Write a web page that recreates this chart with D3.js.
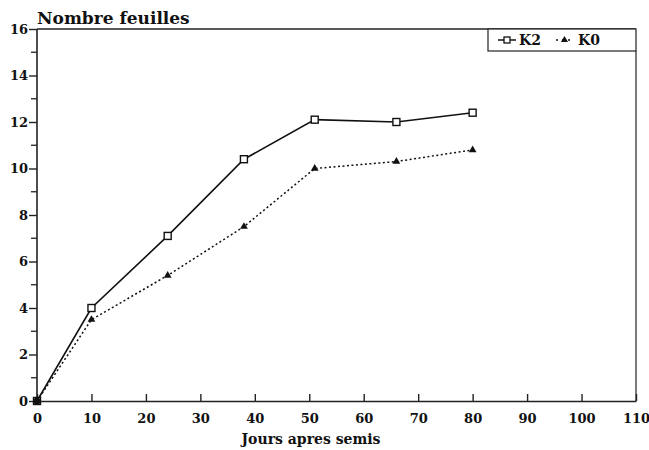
<!DOCTYPE html>
<html>
<head>
<meta charset="utf-8">
<script src="https://cdn.jsdelivr.net/npm/d3@7"></script>
<style>
  body { margin: 0; background: #fff; }
  svg text { font-family: "DejaVu Serif", "Liberation Serif", serif; font-weight: bold; fill: #111; }
</style>
</head>
<body>
<svg width="649" height="450"></svg>
<script>
const svg = d3.select("svg");

const days = [0, 10, 24, 38, 51, 66, 80];
const k2 = [0, 4.0, 7.1, 10.4, 12.1, 12.0, 12.4];
const k0 = [0, 3.5, 5.4, 7.5, 10.0, 10.3, 10.8];
const xTicks = [0, 10, 20, 30, 40, 50, 60, 70, 80, 90, 100, 110];
const yTicks = [0, 2, 4, 6, 8, 10, 12, 14, 16];

const margin = { top: 29, right: 13, left: 37, bottom: 49 };
const width = 649, height = 450;
const innerWidth = width - margin.left - margin.right;
const innerHeight = height - margin.top - margin.bottom;

const xScale = d3.scaleLinear().domain([0, 110]).range([0, innerWidth]);
const yScale = d3.scaleLinear().domain([0, 16]).range([innerHeight, 0]);

const g = svg.append("g")
    .attr("transform", `translate(${margin.left}, ${margin.top})`);

// frame top + right
g.append("line").attr("x1", 0).attr("x2", innerWidth).attr("y1", 0).attr("y2", 0)
    .attr("stroke", "#222").attr("stroke-width", 1.3);
g.append("line").attr("x1", innerWidth).attr("x2", innerWidth).attr("y1", 22).attr("y2", innerHeight)
    .attr("stroke", "#222").attr("stroke-width", 1.2);

// y axis with minor ticks
const yAxis = g.append("g")
    .call(d3.axisLeft(yScale).tickValues(yTicks).tickSize(8).tickPadding(1).tickFormat(d3.format("d")));
yAxis.append("g").selectAll("line").data(d3.range(1, 16, 2)).enter().append("line")
    .attr("x1", -6).attr("x2", 0)
    .attr("y1", d => yScale(d)).attr("y2", d => yScale(d))
    .attr("stroke", "#222").attr("stroke-width", 1.3);

// x axis, ticks pointing inward
const xAxis = g.append("g")
    .attr("transform", `translate(0, ${innerHeight})`)
    .call(d3.axisBottom(xScale).tickValues(xTicks).tickSizeInner(-7).tickSizeOuter(0).tickPadding(13));

[yAxis, xAxis].forEach(a => {
    a.attr("font-family", null).attr("font-size", null);
    a.select(".domain").attr("stroke", "#222").attr("stroke-width", 1.6);
    a.selectAll(".tick line").attr("stroke", "#222").attr("stroke-width", 1.4);
    a.selectAll("text").style("font-size", "13px");
});
yAxis.select(".domain").attr("d", `M0,${innerHeight}V0`);

const line = d3.line()
    .x((d, i) => xScale(days[i]))
    .y(d => yScale(d));

g.append("path").datum(k2).attr("d", line)
    .attr("fill", "none").attr("stroke", "#111").attr("stroke-width", 1.6);
g.append("path").datum(k0).attr("d", line)
    .attr("fill", "none").attr("stroke", "#111").attr("stroke-width", 1.5)
    .attr("stroke-dasharray", "2,2.5");

g.selectAll(".sq").data(k2).enter().append("rect")
    .attr("x", (d, i) => xScale(days[i]) - 3.5)
    .attr("y", d => yScale(d) - 3.5)
    .attr("width", 7).attr("height", 7)
    .attr("fill", "#fff").attr("stroke", "#111").attr("stroke-width", 1.4);

const tri = d3.symbol().type(d3.symbolTriangle).size(26);
g.selectAll(".tri").data(k0).enter().append("path")
    .attr("transform", (d, i) => `translate(${xScale(days[i])}, ${yScale(d)})`)
    .attr("d", tri).attr("fill", "#111");

// origin dot
g.append("circle").attr("cx", xScale(0)).attr("cy", yScale(0)).attr("r", 3.5).attr("fill", "#111");

// legend
const lg = svg.append("g").attr("transform", "translate(488, 29)");
lg.append("rect").attr("x", 0).attr("y", 0).attr("width", 148).attr("height", 22)
    .attr("fill", "#fff").attr("stroke", "#222").attr("stroke-width", 1.2);
lg.append("line").attr("x1", 10).attr("x2", 28).attr("y1", 11).attr("y2", 11)
    .attr("stroke", "#111").attr("stroke-width", 1.5);
lg.append("rect").attr("x", 16).attr("y", 8).attr("width", 6).attr("height", 6)
    .attr("fill", "#fff").attr("stroke", "#111").attr("stroke-width", 1.3);
lg.append("text").attr("x", 31).attr("y", 16).style("font-size", "14px").text("K2");
lg.append("line").attr("x1", 68).attr("x2", 85).attr("y1", 11).attr("y2", 11)
    .attr("stroke", "#111").attr("stroke-width", 1.5).attr("stroke-dasharray", "2,4");
lg.append("path").attr("transform", "translate(76.5, 11)").attr("d", d3.symbol().type(d3.symbolTriangle).size(22)).attr("fill", "#111");
lg.append("text").attr("x", 90).attr("y", 16).style("font-size", "14px").text("K0");

// titles
svg.append("text").attr("x", 37).attr("y", 24).style("font-size", "17px").text("Nombre feuilles");
svg.append("text").attr("x", 311).attr("y", 444).attr("text-anchor", "middle")
    .style("font-size", "14px").text("Jours apres semis");
</script>
</body>
</html>
